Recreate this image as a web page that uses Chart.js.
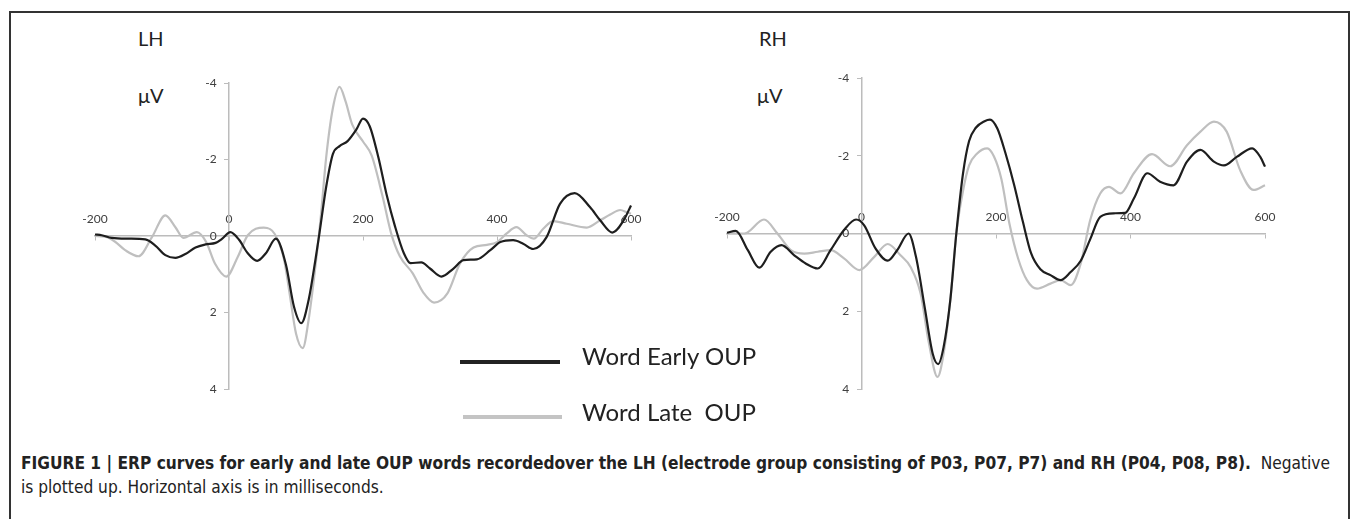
<!DOCTYPE html>
<html>
<head>
<meta charset="utf-8">
<script src="https://cdn.jsdelivr.net/npm/chart.js@4"></script>
<style>
  body { margin: 0; width: 1352px; height: 519px; overflow: hidden; background: #fff; position: relative; font-family: Lato, sans-serif; }
  .frame { position: absolute; left: 9px; top: 11px; width: 1337px; height: 600px; border: 2px solid #333; }
  canvas { position: absolute; }
  .title { position: absolute; font-size: 20px; line-height: 24px; color: #222; }
  .legline { position: absolute; height: 4px; }
  .legtext { position: absolute; left: 582px; font-size: 24px; line-height: 28px; color: #222; white-space: pre; }
  .caption { position: absolute; left: 21px; top: 451px; font-family: "Liberation Sans Narrow", "DejaVu Sans Condensed", "Liberation Sans", sans-serif; font-size: 17px; line-height: 24px; color: #222; white-space: nowrap; transform-origin: 0 0; }
  .caption b { font-weight: bold; }
</style>
</head>
<body>
<div class="frame"></div>

<div class="title" style="left:138px; top:26px;">LH</div>
<div class="title" style="left:138px; top:83px;">μV</div>
<div class="title" style="left:759px; top:26px;">RH</div>
<div class="title" style="left:757px; top:83px;">μV</div>

<canvas id="lh" width="640" height="440" style="left:40px; top:0px;"></canvas>
<canvas id="rh" width="640" height="440" style="left:680px; top:0px;"></canvas>

<div class="legline" style="left:460px; top:360px; width:100px; background:#222;"></div>
<div class="legtext" style="top:342px;">Word Early OUP</div>
<div class="legline" style="left:463px; top:415px; width:99px; background:#c4c4c4;"></div>
<div class="legtext" style="top:398px;">Word Late  OUP</div>

<div class="caption" id="caption"><span id="capline"><b>FIGURE 1 | ERP curves for early and late OUP words recordedover the LH (electrode group consisting of P03, P07, P7) and RH (P04, P08, P8).</b>&nbsp;&nbsp;Negative</span><br>is plotted up. Horizontal axis is in milliseconds.</div>

<script>
// tick values (ms and µV)
const xTickValues = [-200, 0, 200, 400, 600];
const yTickValues = [-4, -2, 0, 2, 4];

// LH, early OUP words (black)
const lhEarlyMs = [-200, -190, -175, -150, -125, -110, -95, -80, -65, -50, -35, -20, -10, 2, 15, 28, 42, 55, 70, 85, 97, 108, 119, 129, 135, 145, 155, 165, 177, 190, 200, 210, 223, 235, 248, 261, 271, 287, 300, 317, 335, 350, 370, 390, 405, 424, 439, 454, 474, 494, 516, 539, 554, 572, 589, 600];
const lhEarlyUv = [-0.04, -0.02, 0.05, 0.07, 0.09, 0.25, 0.5, 0.57, 0.47, 0.3, 0.22, 0.18, 0.07, -0.1, 0.1, 0.45, 0.65, 0.45, 0.07, 0.75, 1.85, 2.28, 1.66, 0.62, -0.07, -1.28, -2.14, -2.35, -2.48, -2.78, -3.07, -2.87, -2.05, -1.1, -0.24, 0.45, 0.71, 0.69, 0.85, 1.06, 0.85, 0.63, 0.61, 0.37, 0.16, 0.11, 0.2, 0.34, 0.03, -0.84, -1.12, -0.75, -0.41, -0.09, -0.41, -0.8];

// LH, late OUP words (grey)
const lhLateMs = [-200, -185, -170, -155, -135, -115, -95, -80, -68, -48, -34, -21, -4, 13, 28, 52, 68, 82, 90, 100, 110, 119, 129, 137, 145, 155, 165, 174, 184, 200, 213, 229, 242, 255, 274, 290, 306, 326, 345, 365, 385, 400, 414, 429, 444, 455, 469, 484, 504, 534, 554, 569, 584, 594, 600];
const lhLateUv = [0, 0.02, 0.15, 0.37, 0.53, 0.03, -0.54, -0.23, 0.05, -0.1, 0.16, 0.72, 1.06, 0.55, -0.02, -0.22, -0.06, 0.6, 1.45, 2.55, 2.93, 2.17, 0.79, -0.5, -2.05, -3.34, -3.9, -3.52, -2.91, -2.47, -2.1, -1.05, -0.07, 0.53, 0.97, 1.48, 1.74, 1.5, 0.71, 0.3, 0.23, 0.16, -0.06, -0.23, -0.02, 0.07, -0.19, -0.39, -0.32, -0.22, -0.41, -0.56, -0.68, -0.62, -0.58];

// RH, early OUP words (black)
const rhEarlyMs = [-200, -187, -169, -152, -135, -119, -100, -83, -65, -46, -26, -8, 4, 21, 39, 53, 70, 81, 94, 106, 114, 122, 132, 141, 151, 160, 170, 183, 191, 202, 214, 227, 240, 252, 266, 281, 296, 311, 326, 340, 355, 375, 392, 405, 425, 444, 464, 484, 504, 524, 539, 558, 581, 593, 600];
const rhEarlyUv = [-0.02, -0.07, 0.43, 0.88, 0.47, 0.3, 0.56, 0.77, 0.9, 0.43, -0.09, -0.36, -0.21, 0.39, 0.7, 0.43, 0, 0.6, 1.9, 3.1, 3.36, 2.93, 1.72, 0, -1.55, -2.38, -2.72, -2.89, -2.93, -2.7, -2.07, -1.25, -0.3, 0.5, 0.92, 1.07, 1.2, 0.99, 0.7, 0.15, -0.43, -0.52, -0.53, -0.9, -1.55, -1.33, -1.24, -1.85, -2.15, -1.85, -1.75, -1.97, -2.19, -1.97, -1.72];

// RH, late OUP words (grey)
const rhLateMs = [-200, -174, -145, -125, -105, -85, -65, -46, -26, -3, 19, 39, 58, 73, 88, 100, 113, 122, 132, 141, 151, 160, 172, 187, 197, 208, 220, 233, 246, 261, 281, 296, 311, 326, 340, 355, 368, 385, 405, 432, 459, 484, 504, 524, 543, 563, 583, 600];
const rhLateUv = [0, 0, -0.36, 0, 0.43, 0.52, 0.47, 0.43, 0.64, 0.94, 0.6, 0.27, 0.56, 0.86, 1.55, 2.8, 3.69, 3.1, 1.72, 0, -1.1, -1.75, -2.06, -2.19, -1.98, -1.4, -0.25, 0.65, 1.2, 1.42, 1.29, 1.2, 1.33, 0.77, -0.34, -1.03, -1.2, -1.03, -1.55, -2.04, -1.73, -2.27, -2.62, -2.88, -2.62, -1.63, -1.12, -1.24];

const toPoints = (ms, uv) => ms.map((t, i) => ({ x: t, y: uv[i] }));

const tickFont = { family: 'Lato', size: 12 };
const axisGrey = '#bcbcbc';

function erpChart(id, padding, early, late) {
    return new Chart(document.getElementById(id), {
        type: 'line',
        data: {
            datasets: [{
                label: 'Word Early OUP',
                data: toPoints(early[0], early[1]),
                borderColor: '#1e1e1e',
                borderWidth: 2.2,
            }, {
                label: 'Word Late  OUP',
                data: toPoints(late[0], late[1]),
                borderColor: '#bfbfbf',
                borderWidth: 2.2,
            }]
        },
        options: {
            responsive: false,
            animation: false,
            devicePixelRatio: 1,
            layout: { padding: padding },
            elements: {
                point: { radius: 0 },
                line: { cubicInterpolationMode: 'monotone' },
            },
            datasets: { line: { clip: 6 } },
            plugins: { legend: { display: false }, tooltip: { enabled: false } },
            scales: {
                x: {
                    type: 'linear',
                    position: { y: 0 },
                    min: xTickValues[0],
                    max: xTickValues[xTickValues.length - 1],
                    afterBuildTicks: s => { s.ticks = xTickValues.map(v => ({ value: v })); },
                    ticks: { font: tickFont, color: '#404040', padding: -28, maxRotation: 0 },
                    grid: { drawOnChartArea: false, tickLength: 4, color: axisGrey },
                    border: { color: axisGrey, width: 1.5 },
                },
                y: {
                    type: 'linear',
                    position: { x: 0 },
                    reverse: true,
                    min: yTickValues[0],
                    max: yTickValues[yTickValues.length - 1],
                    afterBuildTicks: s => { s.ticks = yTickValues.map(v => ({ value: v })); },
                    // the centred axis draws labels flush with the line, so pad them with spaces
                    ticks: { font: tickFont, color: '#404040', callback: v => v + '    ' },
                    grid: { drawOnChartArea: false, tickLength: 4, color: axisGrey },
                    border: { color: axisGrey, width: 1.5 },
                },
            },
        }
    });
}

erpChart('lh', { left: 55, right: 49, top: 83, bottom: 51 }, [lhEarlyMs, lhEarlyUv], [lhLateMs, lhLateUv]);
erpChart('rh', { left: 47, right: 55, top: 78, bottom: 51 }, [rhEarlyMs, rhEarlyUv], [rhLateMs, rhLateUv]);

// squeeze the caption so its first line spans the frame like the print layout
const cap = document.getElementById('caption');
const lineWidth = document.getElementById('capline').getBoundingClientRect().width;
cap.style.transform = 'scaleX(' + (1309 / lineWidth) + ')';
</script>
</body>
</html>
